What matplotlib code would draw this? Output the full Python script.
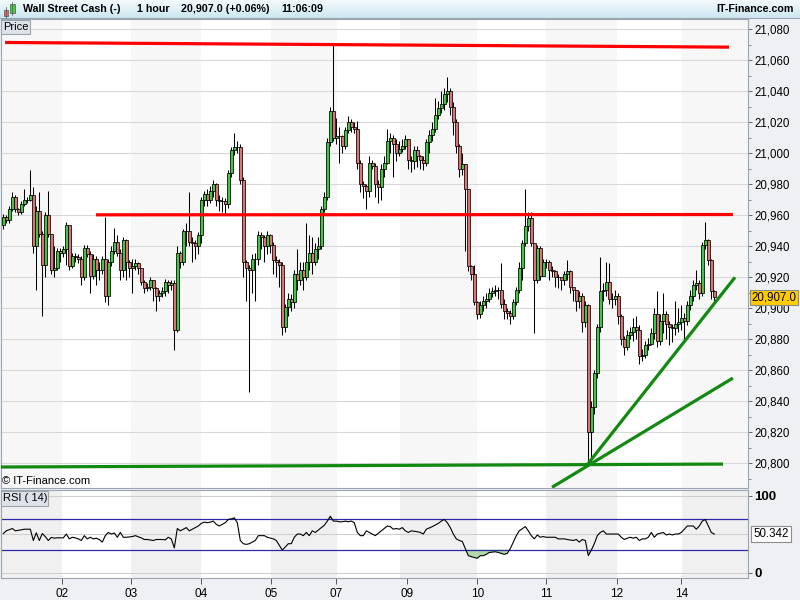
import matplotlib
matplotlib.use("Agg")
import matplotlib.pyplot as plt
from matplotlib.patches import Rectangle
from matplotlib.colors import LinearSegmentedColormap
import numpy as np

plt.rcParams['font.family'] = ['Liberation Sans', 'DejaVu Sans']

# ---------------- data (hourly candles, bar index = position) ----------------
first_open = 20954
close = [20959, 20957, 20964, 20972, 20964, 20962, 20967, 20970, 20970, 20973,
         20940, 20963, 20948, 20928, 20960, 20948, 20925, 20926, 20937, 20936,
         20938, 20954, 20927, 20934, 20933, 20932, 20920, 20939, 20935, 20921,
         20932, 20925, 20925, 20932, 20908, 20930, 20937, 20943, 20936, 20925,
         20944, 20930, 20926, 20927, 20929, 20926, 20917, 20913, 20914, 20918,
         20913, 20908, 20910, 20911, 20917, 20915, 20916, 20886, 20936, 20930,
         20950, 20950, 20943, 20942, 20940, 20947, 20970, 20974, 20970, 20976,
         20980, 20970, 20969, 20969, 20967, 20987, 21002, 21004, 21004, 20983,
         20930, 20926, 20925, 20932, 20932, 20947, 20946, 20940, 20947, 20941,
         20931, 20930, 20928, 20888, 20901, 20906, 20904, 20922, 20918, 20925,
         20920, 20930, 20936, 20930, 20938, 20940, 20964, 20972, 21007, 21027,
         21010, 21011, 21011, 21005, 21015, 21020, 21017, 21016, 20994, 20980,
         20979, 20976, 20994, 20992, 20980, 20978, 20990, 20994, 21008, 21010,
         21006, 21000, 21003, 21005, 21009, 20996, 20995, 21002, 20998, 20996,
         20994, 21007, 21012, 21016, 21025, 21029, 21032, 21038, 21040, 21030,
         21020, 21005, 20990, 20993, 20977, 20927, 20922, 20904, 20896, 20902,
         20905, 20906, 20910, 20911, 20912, 20912, 20903, 20898, 20897, 20895,
         20904, 20912, 20926, 20942, 20953, 20958, 20942, 20918, 20939, 20921,
         20930, 20930, 20925, 20924, 20920, 20920, 20918, 20922, 20924, 20914,
         20912, 20905, 20908, 20891, 20902, 20820, 20836, 20858, 20888, 20911,
         20912, 20917, 20906, 20906, 20908, 20895, 20880, 20875, 20883, 20885,
         20888, 20886, 20869, 20870, 20876, 20877, 20884, 20896, 20879, 20892,
         20896, 20890, 20888, 20887, 20890, 20891, 20894, 20892, 20902, 20908,
         20915, 20916, 20910, 20941, 20944, 20931, 20911, 20907]
high = [20961, 20960, 20966, 20975, 20973, 20965, 20969, 20977, 20972, 20989,
        20978, 20966, 20975, 20950, 20962, 20976, 20948, 20940, 20939, 20939,
        20940, 20956, 20953, 20936, 20936, 20935, 20934, 20941, 20941, 20937,
        20935, 20934, 20930, 20934, 20959, 20932, 20940, 20952, 20947, 20938,
        20946, 20945, 20931, 20932, 20932, 20930, 20926, 20918, 20916, 20920,
        20918, 20914, 20912, 20914, 20919, 20918, 20918, 20918, 20940, 20937,
        20951, 20955, 20975, 20946, 20944, 20949, 20972, 20976, 20977, 20979,
        20983, 20981, 20973, 20972, 20971, 20989, 21004, 21013, 21008, 21006,
        20985, 20931, 20928, 20935, 20936, 20950, 20949, 20947, 20950, 20948,
        20943, 20934, 20932, 20930, 20903, 20910, 20909, 20925, 20938, 20930,
        20930, 20955, 20947, 20946, 20942, 20946, 20966, 20975, 21010, 21030,
        21071, 21023, 21017, 21012, 21017, 21024, 21022, 21020, 21021, 20996,
        20982, 20980, 20998, 20996, 20994, 20983, 20993, 20998, 21016, 21013,
        21012, 21009, 21008, 21009, 21012, 21009, 20998, 21005, 21005, 20999,
        20998, 21009, 21015, 21020, 21036, 21034, 21040, 21042, 21049, 21042,
        21033, 21022, 21006, 21000, 20993, 20958, 20928, 20928, 20905, 20905,
        20908, 20910, 20913, 20914, 20915, 20914, 20929, 20906, 20900, 20899,
        20906, 20914, 20930, 20944, 20977, 20962, 20962, 20941, 20941, 20940,
        20932, 20932, 20931, 20927, 20925, 20922, 20920, 20924, 20931, 20925,
        20914, 20912, 20911, 20910, 20905, 20903, 20840, 20860, 20890, 20933,
        20916, 20930, 20929, 20910, 20912, 20910, 20896, 20882, 20886, 20888,
        20894, 20895, 20889, 20874, 20879, 20881, 20887, 20900, 20911, 20896,
        20910, 20898, 20892, 20890, 20905, 20900, 20902, 20897, 20905, 20912,
        20918, 20925, 20918, 20943, 20956, 20945, 20932, 20912]
low = [20951, 20955, 20955, 20963, 20962, 20960, 20961, 20966, 20968, 20969,
       20936, 20912, 20946, 20895, 20920, 20946, 20922, 20920, 20925, 20930,
       20933, 20928, 20925, 20926, 20930, 20929, 20915, 20918, 20933, 20910,
       20919, 20915, 20918, 20922, 20904, 20902, 20927, 20935, 20934, 20918,
       20920, 20918, 20920, 20910, 20925, 20922, 20915, 20910, 20911, 20912,
       20905, 20898, 20905, 20907, 20908, 20910, 20912, 20873, 20885, 20926,
       20928, 20940, 20940, 20930, 20932, 20935, 20942, 20966, 20966, 20968,
       20972, 20966, 20963, 20962, 20961, 20965, 20985, 20999, 21000, 20980,
       20920, 20905, 20846, 20910, 20905, 20928, 20938, 20930, 20935, 20936,
       20922, 20920, 20914, 20883, 20885, 20895, 20898, 20900, 20912, 20915,
       20912, 20918, 20925, 20922, 20928, 20932, 20938, 20962, 20970, 21005,
       21008, 21006, 20994, 21000, 21003, 21013, 21014, 21013, 20990, 20975,
       20971, 20964, 20972, 20990, 20972, 20968, 20970, 20985, 20993, 21000,
       20985, 20995, 20998, 21001, 21003, 20990, 20988, 20990, 20991, 20990,
       20989, 20992, 21000, 21008, 21014, 21022, 21026, 21028, 21033, 21025,
       21012, 21000, 20985, 20986, 20937, 20924, 20918, 20902, 20893, 20894,
       20898, 20900, 20904, 20907, 20908, 20906, 20900, 20893, 20893, 20890,
       20893, 20902, 20910, 20918, 20940, 20950, 20940, 20884, 20916, 20918,
       20922, 20926, 20918, 20920, 20914, 20913, 20912, 20915, 20918, 20910,
       20905, 20898, 20900, 20885, 20888, 20798, 20799, 20832, 20855, 20885,
       20905, 20908, 20903, 20900, 20902, 20890, 20876, 20870, 20873, 20880,
       20879, 20880, 20864, 20866, 20868, 20873, 20876, 20880, 20875, 20876,
       20884, 20880, 20876, 20878, 20883, 20885, 20886, 20880, 20889, 20899,
       20905, 20912, 20906, 20908, 20938, 20928, 20906, 20904]

rsi_bar = [0, 1, 3, 4, 6, 7, 9, 10, 11, 12,
           13, 14, 15, 16, 17, 18, 19, 20, 21, 22,
           23, 24, 25, 26, 27, 28, 29, 30, 31, 32,
           33, 34, 35, 36, 37, 38, 39, 40, 41, 43,
           44, 46, 47, 48, 50, 51, 53, 54, 55, 56,
           57, 58, 59, 60, 61, 62, 63, 65, 66, 67,
           68, 69, 70, 71, 72, 74, 75, 76, 77, 78,
           79, 80, 81, 82, 83, 84, 85, 86, 87, 88,
           90, 91, 93, 94, 95, 96, 97, 98, 99, 100,
           101, 102, 103, 104, 106, 107, 108, 109, 110, 111,
           112, 113, 114, 115, 116, 117, 118, 119, 120, 121,
           122, 123, 124, 126, 127, 128, 129, 130, 131, 132,
           133, 134, 135, 136, 138, 139, 140, 141, 143, 145,
           146, 147, 148, 149, 150, 151, 152, 153, 154, 155,
           156, 158, 159, 160, 161, 162, 164, 165, 166, 167,
           168, 169, 170, 171, 172, 174, 175, 176, 177, 178,
           179, 180, 181, 183, 184, 185, 187, 188, 190, 191,
           192, 193, 194, 195, 196, 197, 198, 199, 200, 201,
           203, 205, 206, 207, 208, 209, 210, 211, 212, 213,
           214, 215, 216, 217, 218, 220, 221, 222, 223, 224,
           225, 226, 227, 228, 230, 231, 232, 233, 234, 235,
           236, 237]
rsi_val = [51.0, 54.6, 57.6, 54.6, 55.9, 56.7, 56.7, 42.0, 52.0, 42.0,
           51.0, 47.0, 42.0, 46.0, 45.0, 45.5, 45.4, 45.4, 50.4, 44.1,
           46.2, 45.4, 44.1, 42.0, 48.3, 44.1, 46.2, 44.1, 45.0, 43.3,
           39.9, 48.3, 52.5, 50.4, 51.7, 46.2, 52.5, 46.2, 46.2, 47.1,
           48.3, 45.4, 43.3, 43.3, 42.0, 43.3, 43.3, 42.8, 46.2, 44.0,
           32.3, 57.6, 54.6, 56.7, 58.8, 54.6, 56.7, 60.9, 64.3, 66.0,
           65.2, 66.0, 67.3, 63.0, 60.9, 65.2, 69.4, 70.2, 71.5, 65.2,
           42.0, 37.8, 36.9, 37.8, 39.9, 42.0, 48.3, 48.3, 48.3, 46.2,
           44.1, 42.0, 29.4, 33.6, 37.8, 37.8, 46.2, 50.4, 50.4, 48.3,
           52.5, 48.3, 54.6, 52.5, 58.8, 61.8, 67.3, 73.6, 67.3, 67.3,
           66.4, 66.4, 67.3, 66.4, 67.3, 65.2, 52.5, 48.3, 48.3, 54.6,
           52.5, 50.4, 48.3, 54.6, 57.6, 60.9, 60.1, 56.7, 57.6, 56.7,
           58.8, 54.6, 52.5, 54.6, 53.4, 52.5, 50.4, 56.7, 60.1, 64.3,
           67.3, 69.4, 65.2, 58.8, 50.4, 44.1, 42.0, 40.7, 31.5, 22.2,
           20.9, 18.8, 22.2, 22.2, 23.9, 26.4, 27.3, 26.4, 25.2, 23.9,
           25.2, 31.5, 39.9, 48.3, 54.6, 60.1, 54.6, 48.3, 44.1, 49.2,
           46.2, 47.1, 46.2, 46.2, 46.2, 44.1, 44.1, 43.3, 42.0, 43.3,
           39.9, 43.3, 42.0, 22.2, 29.4, 37.8, 48.3, 52.5, 54.6, 50.4,
           50.4, 50.4, 46.2, 43.3, 45.0, 46.2, 45.0, 46.2, 42.0, 44.1,
           44.1, 46.2, 52.5, 46.2, 50.4, 52.5, 49.2, 50.4, 49.2, 50.4,
           50.4, 52.5, 56.7, 60.9, 60.9, 56.7, 60.9, 67.3, 69.4, 60.9,
           52.5, 50.342]

day_labels = ['02', '03', '04', '05', '07', '09', '10', '11', '12', '14']
day_tick_bar = [19.6, 42.6, 65.9, 89.2, 111.0, 134.6, 158.0, 181.0, 204.5, 226.0]
shade_spans = [(-1.0, 19.6), (42.6, 65.9), (89.2, 111.2), (132.2, 158.0),
               (181.0, 204.5), (226.3, 249.0)]

price_ticks = [20800, 20820, 20840, 20860, 20880, 20900, 20920, 20940,
               20960, 20980, 21000, 21020, 21040, 21060, 21080]
last_price = 20907.0
last_rsi = 50.342

# drawn trend lines (bar position, price)
red_top = ([0.6, 241.9], [21071.5, 21068.5])
red_mid = ([30.9, 243.2], [20960.3, 20960.5])
green_flat = ([-1.1, 239.9], [20797.6, 20799.5])
green_steep = ([194.6, 243.9], [20799.0, 20920.0])
green_shallow = ([182.9, 243.2], [20784.5, 20855.0])

# ---------------- figure ----------------
W, H = 800, 600
fig = plt.figure(figsize=(8, 6), dpi=100)
fig.patch.set_facecolor('#eef0f3')


def add_ax(x0, y0, x1, y1, **kw):
    return fig.add_axes([x0 / W, 1 - y1 / H, (x1 - x0) / W, (y1 - y0) / H], **kw)


XL = (-0.77, 248.23)

# title bar
tax = add_ax(0, 0, 800, 18)
grad = np.linspace(0, 1, 50).reshape(-1, 1)
cm = LinearSegmentedColormap.from_list('tb', ['#f3fafd', '#cde6f1'])
tax.imshow(grad, aspect='auto', cmap=cm, extent=(0, 800, 18, 0))
tax.set_xlim(0, 800)
tax.set_ylim(18, 0)
tax.axis('off')

# price panel
ax = add_ax(1, 19, 748, 488)
ax.set_facecolor('white')
ax.set_xlim(*XL)
ax.set_ylim(20784.06, 21086.65)
for a, b in shade_spans:
    ax.axvspan(a, b, color='#f7f7f7', zorder=0.1, lw=0)
ax.set_yticks(price_ticks)
ax.set_yticks(np.arange(20790, 21090, 10), minor=True)
ax.set_yticklabels([f"{v:,}" for v in price_ticks])
for lab, v in zip(ax.get_yticklabels(), price_ticks):
    if v % 100 == 0:
        lab.set_fontweight('bold')
ax.yaxis.tick_right()
ax.tick_params(axis='y', which='major', length=3, width=0.7, color='#666666',
               labelsize=8.3, pad=1.5)
ax.tick_params(axis='y', which='minor', length=2, width=0.7, color='#888888')
ax.tick_params(axis='x', bottom=False, labelbottom=False)
ax.grid(axis='y', which='major', color='#d8d8d8', lw=0.8)
ax.set_axisbelow(True)
for s in ax.spines.values():
    s.set_color('#9aa5b0')
    s.set_linewidth(0.8)

opens = [first_open] + close[:-1]
idx = np.arange(len(close))
c = np.array(close, dtype=float)
o = np.array(opens, dtype=float)
cols = ['#3dc83d' if cc >= oo else '#e07272' for cc, oo in zip(c, o)]
ax.vlines(idx, low, high, color='black', lw=0.75, zorder=3)
ax.bar(idx, c - o, bottom=o, width=0.8, color=cols, edgecolor='black',
       linewidth=0.55, zorder=4)

for (xs, ys), colr in [(red_top, '#ff0000'), (red_mid, '#ff0000'),
                       (green_flat, '#128a12'), (green_steep, '#128a12'),
                       (green_shallow, '#128a12')]:
    ax.plot(xs, ys, color=colr, lw=2.3, solid_capstyle='butt', zorder=6)

ax.annotate(f"{last_price:,.1f}", xy=(1.0, last_price),
            xycoords=('axes fraction', 'data'), xytext=(2.5, 0),
            textcoords='offset points', va='center', ha='left', fontsize=8.3,
            annotation_clip=False, zorder=20,
            bbox=dict(boxstyle='square,pad=0.15', fc='#ffcc00', ec='#8c8c8c', lw=0.8))

# RSI panel
rax = add_ax(1, 490, 748, 578)
rax.set_facecolor('white')
rax.set_xlim(*XL)
rax.set_ylim(-6.91, 107.82)
for a, b in shade_spans:
    rax.axvspan(a, b, color='#f0f0f0', zorder=0.1, lw=0)
for lv in (0, 50, 100):
    rax.axhline(lv, color='#cfcfcf', lw=0.8, zorder=0.5)
for lv in (30, 70):
    rax.axhline(lv, color='#2a2aa8', lw=0.9, zorder=2)
rv = np.array(rsi_val)
rax.fill_between(rsi_bar, rv, 30, where=rv < 30, interpolate=True,
                 color='#b2d8ab', zorder=1.5, lw=0)
rax.fill_between(rsi_bar, rv, 70, where=rv > 70, interpolate=True,
                 color='#f2b8b8', zorder=1.5, lw=0)
rax.plot(rsi_bar, rsi_val, color='black', lw=0.8, zorder=3)
rax.yaxis.tick_right()
rax.set_yticks([0, 100])
rax.set_yticklabels(['0', '100'], fontweight='bold')
rax.tick_params(axis='y', length=3, width=0.7, color='#666666', labelsize=9.5, pad=1.5)
rax.set_xticks(day_tick_bar)
rax.set_xticklabels(day_labels)
rax.tick_params(axis='x', length=4, width=0.7, color='#555555', labelsize=8.5, pad=3)
for s in rax.spines.values():
    s.set_color('#9aa5b0')
    s.set_linewidth(0.8)
rax.annotate(f"{last_rsi:.3f}", xy=(1.0, last_rsi),
             xycoords=('axes fraction', 'data'), xytext=(4, 0),
             textcoords='offset points', va='center', ha='left', fontsize=8.3,
             annotation_clip=False, zorder=20,
             bbox=dict(boxstyle='square,pad=0.2', fc='white', ec='#8c8c8c', lw=0.8))

# overlay for labels in pixel space
ov = add_ax(0, 0, 800, 600, zorder=10)
ov.set_xlim(0, 800)
ov.set_ylim(600, 0)
ov.axis('off')
ov.patch.set_alpha(0)
ov.plot([0, 800], [18, 18], color='#9aa5b0', lw=0.8)
# candle icon
ov.add_patch(Rectangle((3.5, 9.5), 4.5, 6, fc='#e06666', ec='#555555', lw=0.5))
ov.plot([5.7, 5.7], [7, 17.5], color='#555555', lw=0.5)
ov.add_patch(Rectangle((10, 4), 4.5, 9, fc='#44cc44', ec='#555555', lw=0.5))
ov.plot([12.2, 12.2], [2, 15], color='#555555', lw=0.5)
tkw = dict(fontsize=7.7, fontweight='bold', va='center', color='black')
ov.text(23, 9.5, 'Wall Street Cash (-)', **tkw)
ov.text(137, 9.5, '1 hour', **tkw)
ov.text(181, 9.5, '20,907.0 (+0.06%)', **tkw)
ov.text(281, 9.5, '11:06:09', **tkw)
ov.text(794, 9.5, 'IT-Finance.com', ha='right', fontsize=7.7, fontweight='bold', va='center')
ov.add_patch(Rectangle((0.5, 19.5), 29, 14, fc='#dde3e8', ec='#9aa5b0', lw=0.8))
ov.text(3, 26.5, 'Price', fontsize=8, va='center')
ov.add_patch(Rectangle((0.5, 490.5), 47, 15, fc='#dde3e8', ec='#9aa5b0', lw=0.8))
ov.text(3, 498, 'RSI ( 14)', fontsize=8, va='center')
ov.text(2, 480.5, '\u00a9 IT-Finance.com', fontsize=8, va='center')

fig.savefig('out.png', dpi=100)
